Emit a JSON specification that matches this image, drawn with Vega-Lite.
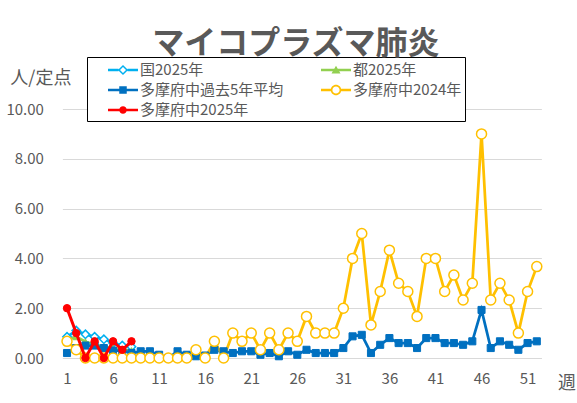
{
  "$schema": "https://vega.github.io/schema/vega-lite/v6.json",
  "width": 479,
  "height": 249,
  "autosize": {"type": "none"},
  "padding": {"left": 62.4, "top": 109, "right": 35.6, "bottom": 45},
  "background": "white",
  "title": {
    "text": "マイコプラズマ肺炎",
    "font": "Noto Sans CJK JP",
    "fontSize": 32,
    "fontWeight": "bold",
    "color": "#595959",
    "anchor": "middle",
    "frame": "group",
    "dx": -6,
    "dy": 2,
    "offset": -2
  },
  "data": {
    "values": [
      {"series": "国2025年", "week": 1, "value": 0.85},
      {"series": "国2025年", "week": 2, "value": 1.1},
      {"series": "国2025年", "week": 3, "value": 0.95},
      {"series": "国2025年", "week": 4, "value": 0.85},
      {"series": "国2025年", "week": 5, "value": 0.75},
      {"series": "国2025年", "week": 6, "value": 0.6},
      {"series": "国2025年", "week": 7, "value": 0.5},
      {"series": "国2025年", "week": 8, "value": 0.45},
      {"series": "都2025年", "week": 1, "value": 0.75},
      {"series": "都2025年", "week": 2, "value": 0.85},
      {"series": "都2025年", "week": 3, "value": 0.65},
      {"series": "都2025年", "week": 4, "value": 0.55},
      {"series": "都2025年", "week": 5, "value": 0.45},
      {"series": "都2025年", "week": 6, "value": 0.4},
      {"series": "都2025年", "week": 7, "value": 0.35},
      {"series": "都2025年", "week": 8, "value": 0.3},
      {"series": "多摩府中過去5年平均", "week": 1, "value": 0.2},
      {"series": "多摩府中過去5年平均", "week": 2, "value": 0.4},
      {"series": "多摩府中過去5年平均", "week": 3, "value": 0.5},
      {"series": "多摩府中過去5年平均", "week": 4, "value": 0.5},
      {"series": "多摩府中過去5年平均", "week": 5, "value": 0.4},
      {"series": "多摩府中過去5年平均", "week": 6, "value": 0.3},
      {"series": "多摩府中過去5年平均", "week": 7, "value": 0.3},
      {"series": "多摩府中過去5年平均", "week": 8, "value": 0.2},
      {"series": "多摩府中過去5年平均", "week": 9, "value": 0.27},
      {"series": "多摩府中過去5年平均", "week": 10, "value": 0.27},
      {"series": "多摩府中過去5年平均", "week": 11, "value": 0.13},
      {"series": "多摩府中過去5年平均", "week": 12, "value": 0},
      {"series": "多摩府中過去5年平均", "week": 13, "value": 0.27},
      {"series": "多摩府中過去5年平均", "week": 14, "value": 0.13},
      {"series": "多摩府中過去5年平均", "week": 15, "value": 0.07},
      {"series": "多摩府中過去5年平均", "week": 16, "value": 0.1},
      {"series": "多摩府中過去5年平均", "week": 17, "value": 0.33},
      {"series": "多摩府中過去5年平均", "week": 18, "value": 0.27},
      {"series": "多摩府中過去5年平均", "week": 19, "value": 0.2},
      {"series": "多摩府中過去5年平均", "week": 20, "value": 0.27},
      {"series": "多摩府中過去5年平均", "week": 21, "value": 0.27},
      {"series": "多摩府中過去5年平均", "week": 22, "value": 0.13},
      {"series": "多摩府中過去5年平均", "week": 23, "value": 0.2},
      {"series": "多摩府中過去5年平均", "week": 24, "value": 0.07},
      {"series": "多摩府中過去5年平均", "week": 25, "value": 0.27},
      {"series": "多摩府中過去5年平均", "week": 26, "value": 0.13},
      {"series": "多摩府中過去5年平均", "week": 27, "value": 0.33},
      {"series": "多摩府中過去5年平均", "week": 28, "value": 0.2},
      {"series": "多摩府中過去5年平均", "week": 29, "value": 0.2},
      {"series": "多摩府中過去5年平均", "week": 30, "value": 0.2},
      {"series": "多摩府中過去5年平均", "week": 31, "value": 0.4},
      {"series": "多摩府中過去5年平均", "week": 32, "value": 0.87},
      {"series": "多摩府中過去5年平均", "week": 33, "value": 0.93},
      {"series": "多摩府中過去5年平均", "week": 34, "value": 0.2},
      {"series": "多摩府中過去5年平均", "week": 35, "value": 0.53},
      {"series": "多摩府中過去5年平均", "week": 36, "value": 0.8},
      {"series": "多摩府中過去5年平均", "week": 37, "value": 0.6},
      {"series": "多摩府中過去5年平均", "week": 38, "value": 0.6},
      {"series": "多摩府中過去5年平均", "week": 39, "value": 0.4},
      {"series": "多摩府中過去5年平均", "week": 40, "value": 0.8},
      {"series": "多摩府中過去5年平均", "week": 41, "value": 0.8},
      {"series": "多摩府中過去5年平均", "week": 42, "value": 0.6},
      {"series": "多摩府中過去5年平均", "week": 43, "value": 0.6},
      {"series": "多摩府中過去5年平均", "week": 44, "value": 0.53},
      {"series": "多摩府中過去5年平均", "week": 45, "value": 0.67},
      {"series": "多摩府中過去5年平均", "week": 46, "value": 1.93},
      {"series": "多摩府中過去5年平均", "week": 47, "value": 0.4},
      {"series": "多摩府中過去5年平均", "week": 48, "value": 0.67},
      {"series": "多摩府中過去5年平均", "week": 49, "value": 0.53},
      {"series": "多摩府中過去5年平均", "week": 50, "value": 0.33},
      {"series": "多摩府中過去5年平均", "week": 51, "value": 0.6},
      {"series": "多摩府中過去5年平均", "week": 52, "value": 0.67},
      {"series": "多摩府中2024年", "week": 1, "value": 0.67},
      {"series": "多摩府中2024年", "week": 2, "value": 0.33},
      {"series": "多摩府中2024年", "week": 3, "value": 0},
      {"series": "多摩府中2024年", "week": 4, "value": 0},
      {"series": "多摩府中2024年", "week": 5, "value": 0},
      {"series": "多摩府中2024年", "week": 6, "value": 0},
      {"series": "多摩府中2024年", "week": 7, "value": 0},
      {"series": "多摩府中2024年", "week": 8, "value": 0},
      {"series": "多摩府中2024年", "week": 9, "value": 0},
      {"series": "多摩府中2024年", "week": 10, "value": 0},
      {"series": "多摩府中2024年", "week": 11, "value": 0},
      {"series": "多摩府中2024年", "week": 12, "value": 0},
      {"series": "多摩府中2024年", "week": 13, "value": 0},
      {"series": "多摩府中2024年", "week": 14, "value": 0},
      {"series": "多摩府中2024年", "week": 15, "value": 0.33},
      {"series": "多摩府中2024年", "week": 16, "value": 0},
      {"series": "多摩府中2024年", "week": 17, "value": 0.67},
      {"series": "多摩府中2024年", "week": 18, "value": 0},
      {"series": "多摩府中2024年", "week": 19, "value": 1.0},
      {"series": "多摩府中2024年", "week": 20, "value": 0.67},
      {"series": "多摩府中2024年", "week": 21, "value": 1.0},
      {"series": "多摩府中2024年", "week": 22, "value": 0.33},
      {"series": "多摩府中2024年", "week": 23, "value": 1.0},
      {"series": "多摩府中2024年", "week": 24, "value": 0.33},
      {"series": "多摩府中2024年", "week": 25, "value": 1.0},
      {"series": "多摩府中2024年", "week": 26, "value": 0.67},
      {"series": "多摩府中2024年", "week": 27, "value": 1.67},
      {"series": "多摩府中2024年", "week": 28, "value": 1.0},
      {"series": "多摩府中2024年", "week": 29, "value": 1.0},
      {"series": "多摩府中2024年", "week": 30, "value": 1.0},
      {"series": "多摩府中2024年", "week": 31, "value": 2.0},
      {"series": "多摩府中2024年", "week": 32, "value": 4.0},
      {"series": "多摩府中2024年", "week": 33, "value": 5.0},
      {"series": "多摩府中2024年", "week": 34, "value": 1.33},
      {"series": "多摩府中2024年", "week": 35, "value": 2.67},
      {"series": "多摩府中2024年", "week": 36, "value": 4.33},
      {"series": "多摩府中2024年", "week": 37, "value": 3.0},
      {"series": "多摩府中2024年", "week": 38, "value": 2.67},
      {"series": "多摩府中2024年", "week": 39, "value": 1.67},
      {"series": "多摩府中2024年", "week": 40, "value": 4.0},
      {"series": "多摩府中2024年", "week": 41, "value": 4.0},
      {"series": "多摩府中2024年", "week": 42, "value": 2.67},
      {"series": "多摩府中2024年", "week": 43, "value": 3.33},
      {"series": "多摩府中2024年", "week": 44, "value": 2.33},
      {"series": "多摩府中2024年", "week": 45, "value": 3.0},
      {"series": "多摩府中2024年", "week": 46, "value": 9.0},
      {"series": "多摩府中2024年", "week": 47, "value": 2.33},
      {"series": "多摩府中2024年", "week": 48, "value": 3.0},
      {"series": "多摩府中2024年", "week": 49, "value": 2.33},
      {"series": "多摩府中2024年", "week": 50, "value": 1.0},
      {"series": "多摩府中2024年", "week": 51, "value": 2.67},
      {"series": "多摩府中2024年", "week": 52, "value": 3.67},
      {"series": "多摩府中2025年", "week": 1, "value": 2.0},
      {"series": "多摩府中2025年", "week": 2, "value": 1.0},
      {"series": "多摩府中2025年", "week": 3, "value": 0},
      {"series": "多摩府中2025年", "week": 4, "value": 0.67},
      {"series": "多摩府中2025年", "week": 5, "value": 0},
      {"series": "多摩府中2025年", "week": 6, "value": 0.67},
      {"series": "多摩府中2025年", "week": 7, "value": 0.33},
      {"series": "多摩府中2025年", "week": 8, "value": 0.67}
    ]
  },
  "encoding": {
    "x": {
      "field": "week",
      "type": "quantitative",
      "scale": {"domain": [0.5, 52.5], "nice": false, "zero": false},
      "axis": {
        "values": [1, 6, 11, 16, 21, 26, 31, 36, 41, 46, 51],
        "grid": false,
        "ticks": false,
        "tickSize": 0,
        "domain": true,
        "domainColor": "#d9d9d9",
        "labelPadding": 13,
        "labelFontSize": 15,
        "title": "週",
        "titleAngle": 0,
        "titleX": 504,
        "titleY": 25,
        "titleAlign": "center",
        "titleBaseline": "middle",
        "titleFontSize": 18
      }
    },
    "y": {
      "field": "value",
      "type": "quantitative",
      "scale": {"domain": [0, 10], "nice": false},
      "axis": {
        "values": [0, 2, 4, 6, 8, 10],
        "format": ".2f",
        "grid": true,
        "gridColor": "#d9d9d9",
        "gridWidth": 1,
        "domain": false,
        "ticks": false,
        "tickSize": 0,
        "labelPadding": 19,
        "labelFontSize": 15,
        "title": "人/定点",
        "titleAngle": 0,
        "titleX": -22,
        "titleY": -31,
        "titleAlign": "center",
        "titleBaseline": "middle",
        "titleFontSize": 18
      }
    }
  },
  "layer": [
    {
      "transform": [{"filter": "datum.series !== '多摩府中2025年'"}],
      "mark": {"type": "line", "strokeWidth": 2.75},
      "encoding": {
        "color": {
          "field": "series",
          "type": "nominal",
          "scale": {
            "domain": ["国2025年", "多摩府中過去5年平均", "多摩府中2025年", "都2025年", "多摩府中2024年"],
            "range": ["#00B0F0", "#0070C0", "#FF0000", "#92D050", "#FFC000"]
          },
          "legend": {
            "title": null,
            "orient": "none",
            "legendX": 24.6,
            "legendY": -52,
            "columns": 2,
            "columnPadding": 19,
            "rowPadding": 2,
            "padding": 3,
            "strokeColor": "#000000",
            "fillColor": "#ffffff",
            "labelFont": "Noto Sans CJK JP",
            "labelFontSize": 15,
            "labelColor": "#595959",
            "labelLimit": 300,
            "labelOffset": 7,
            "symbolSize": 400,
            "symbolOffset": 23,
            "symbolStrokeWidth": 0,
            "symbolOpacity": 1
          }
        }
      }
    },
    {
      "mark": {"type": "point", "size": 1, "opacity": 1, "strokeWidth": 0},
      "encoding": {
        "color": {
          "field": "series",
          "type": "nominal",
          "scale": {
            "domain": ["国2025年", "多摩府中過去5年平均", "多摩府中2025年", "都2025年", "多摩府中2024年"],
            "range": ["#00B0F0", "#0070C0", "#FF0000", "#92D050", "#FFC000"]
          },
          "legend": {
            "title": null,
            "orient": "none",
            "legendX": 24.6,
            "legendY": -52,
            "columns": 2,
            "columnPadding": 19,
            "rowPadding": 2,
            "padding": 3,
            "strokeColor": "#000000",
            "fillColor": "#ffffff",
            "labelFont": "Noto Sans CJK JP",
            "labelFontSize": 15,
            "labelColor": "#595959",
            "labelLimit": 300,
            "labelOffset": 7,
            "symbolSize": 400,
            "symbolOffset": 23,
            "symbolStrokeWidth": 0,
            "symbolOpacity": 1
          }
        },
        "fill": {
          "field": "series",
          "type": "nominal",
          "scale": {
            "domain": ["国2025年", "多摩府中過去5年平均", "多摩府中2025年", "都2025年", "多摩府中2024年"],
            "range": ["#00B0F0", "#0070C0", "#FF0000", "#92D050", "#FFC000"]
          },
          "legend": null
        },
        "shape": {
          "field": "series",
          "type": "nominal",
          "scale": {
            "domain": ["国2025年", "多摩府中過去5年平均", "多摩府中2025年", "都2025年", "多摩府中2024年"],
            "range": [
              "M-1.5,-0.125L-0.45,-0.125L-0.45,0.125L-1.5,0.125Z M0.45,-0.125L1.5,-0.125L1.5,0.125L0.45,0.125Z M-0.51,0L0,-0.51L0.51,0L0,0.51Z M-0.3,0L0,0.3L0.3,0L0,-0.3Z",
              "M-1.5,-0.125L1.5,-0.125L1.5,0.125L-1.5,0.125Z M-0.375,-0.375L0.375,-0.375L0.375,0.375L-0.375,0.375Z",
              "M-1.5,-0.125L1.5,-0.125L1.5,0.125L-1.5,0.125Z M0.375,0A0.375,0.375 0 1 1 -0.375,0A0.375,0.375 0 1 1 0.375,0Z",
              "M-1.5,-0.125L1.5,-0.125L1.5,0.125L-1.5,0.125Z M-0.45,0.36L0,-0.42L0.45,0.36Z",
              "M-1.5,-0.125L-0.48,-0.125L-0.48,0.125L-1.5,0.125Z M0.48,-0.125L1.5,-0.125L1.5,0.125L0.48,0.125Z M0.525,0A0.525,0.525 0 1 1 -0.525,0A0.525,0.525 0 1 1 0.525,0Z M0.36,0A0.36,0.36 0 1 0 -0.36,0A0.36,0.36 0 1 0 0.36,0Z"
            ]
          },
          "legend": null
        }
      }
    },
    {
      "transform": [{"filter": "datum.series === '国2025年'"}],
      "mark": {"type": "point", "shape": "diamond", "size": 70, "fill": "#ffffff", "stroke": "#00B0F0", "strokeWidth": 1.5, "opacity": 1, "filled": true}
    },
    {
      "transform": [{"filter": "datum.series === '都2025年'"}],
      "mark": {"type": "point", "shape": "triangle-up", "size": 45, "fill": "#92D050", "stroke": "#92D050", "strokeWidth": 1, "opacity": 1, "filled": true}
    },
    {
      "transform": [{"filter": "datum.series === '多摩府中過去5年平均'"}],
      "mark": {"type": "point", "shape": "square", "size": 50, "fill": "#0070C0", "stroke": "#0070C0", "strokeWidth": 1, "opacity": 1, "filled": true}
    },
    {
      "transform": [{"filter": "datum.series === '多摩府中2024年'"}],
      "mark": {"type": "point", "shape": "circle", "size": 100, "fill": "#ffffff", "stroke": "#FFC000", "strokeWidth": 1.5, "opacity": 1, "filled": true}
    },
    {
      "transform": [{"filter": "datum.series === '多摩府中2025年'"}],
      "mark": {"type": "line", "strokeWidth": 3, "stroke": "#FF0000"}
    },
    {
      "transform": [{"filter": "datum.series === '多摩府中2025年'"}],
      "mark": {"type": "point", "shape": "circle", "size": 55, "fill": "#FF0000", "stroke": "#FF0000", "strokeWidth": 1, "opacity": 1, "filled": true}
    }
  ],
  "config": {
    "font": "Noto Sans CJK JP",
    "axis": {
      "labelColor": "#595959",
      "titleColor": "#595959",
      "labelFont": "Noto Sans CJK JP",
      "titleFont": "Noto Sans CJK JP",
      "titleFontWeight": "normal"
    },
    "view": {"stroke": null}
  }
}
